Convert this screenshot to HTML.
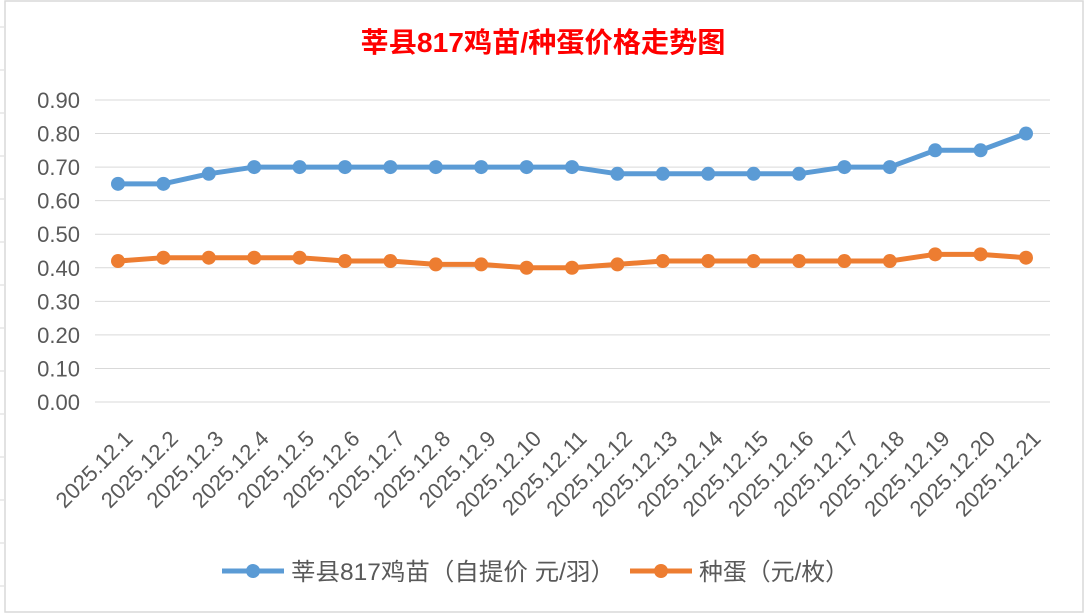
<!DOCTYPE html>
<html><head><meta charset="utf-8"><style>
html,body{margin:0;padding:0;background:#fff;}
svg{display:block;font-family:"Liberation Sans","Noto Sans CJK SC",sans-serif;}
</style></head><body>
<svg width="1086" height="616" xmlns="http://www.w3.org/2000/svg">
<rect x="0" y="0" width="1086" height="616" fill="#fff"/>
<g stroke="#d9d9d9" stroke-width="1">
<line x1="0" y1="27" x2="4" y2="27"/><line x1="0" y1="70" x2="4" y2="70"/><line x1="0" y1="113" x2="4" y2="113"/><line x1="0" y1="156" x2="4" y2="156"/><line x1="0" y1="199" x2="4" y2="199"/><line x1="0" y1="242" x2="4" y2="242"/><line x1="0" y1="285" x2="4" y2="285"/><line x1="0" y1="328" x2="4" y2="328"/><line x1="0" y1="371" x2="4" y2="371"/><line x1="0" y1="414" x2="4" y2="414"/><line x1="0" y1="457" x2="4" y2="457"/><line x1="0" y1="500" x2="4" y2="500"/><line x1="0" y1="543" x2="4" y2="543"/><line x1="0" y1="586" x2="4" y2="586"/>
</g>
<rect x="5" y="1" width="1078" height="611" fill="#fff" stroke="#d9d9d9" stroke-width="1.5"/>
<text x="543" y="52" text-anchor="middle" font-size="28" font-weight="bold" fill="#ff0000" textLength="365" lengthAdjust="spacingAndGlyphs">莘县817鸡苗/种蛋价格走势图</text>
<g stroke="#d9d9d9" stroke-width="1" id="grid"></g>
<g font-size="22" fill="#595959" text-anchor="end" id="ylab"></g>
<g font-size="22" fill="#595959" text-anchor="end" id="xlab"></g>
<g id="series"></g>
<g>
<line x1="222" y1="571" x2="284" y2="571" stroke="#5b9bd5" stroke-width="5"/>
<circle cx="253" cy="571" r="7" fill="#5b9bd5"/>
<text x="291" y="580" font-size="24" fill="#595959" textLength="324" lengthAdjust="spacingAndGlyphs">莘县817鸡苗（自提价 元/羽）</text>
<line x1="630" y1="571" x2="692" y2="571" stroke="#ed7d31" stroke-width="5"/>
<circle cx="661" cy="571" r="7" fill="#ed7d31"/>
<text x="699" y="580" font-size="24" fill="#595959" textLength="150" lengthAdjust="spacingAndGlyphs">种蛋（元/枚）</text>
</g>
<script>
var ns="http://www.w3.org/2000/svg";
function el(p,t,a,txt){var e=document.createElementNS(ns,t);for(var k in a)e.setAttribute(k,a[k]);if(txt)e.textContent=txt;p.appendChild(e);return e;}
function Y(v){return 402-v*335.6;}
function X(i){return 118+i*45.4;}
var g=document.getElementById('grid'),yl=document.getElementById('ylab'),xl=document.getElementById('xlab'),s=document.getElementById('series');
for(var i=0;i<=9;i++){var v=i/10;el(g,'line',{x1:95,x2:1050,y1:Y(v),y2:Y(v)});el(yl,'text',{x:80,y:Y(v)+8},v.toFixed(2));}
for(var i=0;i<21;i++){var x=X(i)+16,y=440;el(xl,'text',{x:x,y:y,transform:'rotate(-45 '+x+' '+y+')'},'2025.12.'+(i+1));}
var a=[0.65,0.65,0.68,0.70,0.70,0.70,0.70,0.70,0.70,0.70,0.70,0.68,0.68,0.68,0.68,0.68,0.70,0.70,0.75,0.75,0.80];
var b=[0.42,0.43,0.43,0.43,0.43,0.42,0.42,0.41,0.41,0.40,0.40,0.41,0.42,0.42,0.42,0.42,0.42,0.42,0.44,0.44,0.43];
[[a,'#5b9bd5'],[b,'#ed7d31']].forEach(function(d){
var pts=d[0].map(function(v,i){return X(i)+','+Y(v);}).join(' ');
el(s,'polyline',{points:pts,fill:'none',stroke:d[1],'stroke-width':5,'stroke-linejoin':'round'});
d[0].forEach(function(v,i){el(s,'circle',{cx:X(i),cy:Y(v),r:7,fill:d[1]});});
});
</script>
</svg>
</body></html>
